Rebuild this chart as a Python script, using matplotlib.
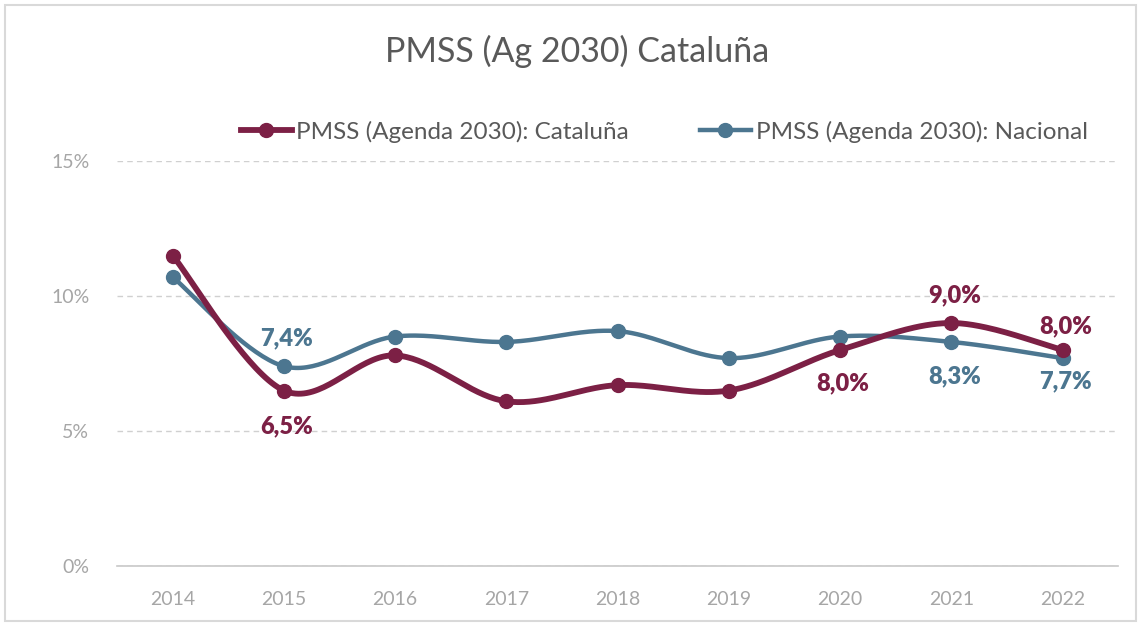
import numpy as np
import matplotlib.pyplot as plt
from matplotlib.patches import Rectangle


years = ["2014", "2015", "2016", "2017", "2018", "2019", "2020", "2021", "2022"]
cataluna = [11.5, 6.5, 7.8, 6.1, 6.7, 6.5, 8.0, 9.0, 8.0]
nacional = [10.7, 7.4, 8.5, 8.3, 8.7, 7.7, 8.5, 8.3, 7.7]

# labelled points -> vertical offset of the label (points)
cat_labels = {1: -26, 6: -24, 7: 20, 8: 17}
nac_labels = {1: 20, 7: -25, 8: -17}

C_CAT = "#7C2045"
C_NAC = "#4C7690"

plt.rcParams["font.family"] = ["Lato", "DejaVu Sans"]


def smooth(x, y, n=40):
    # catmull-rom style bezier, like Excel's "smoothed line"
    x = np.asarray(x, float)
    y = np.asarray(y, float)
    px = np.concatenate([[x[0]], x, [x[-1]]])
    py = np.concatenate([[y[0]], y, [y[-1]]])
    t = np.linspace(0, 1, n)[:, None]
    xs, ys = [], []
    for i in range(1, len(px) - 2):
        p0 = np.array([px[i], py[i]])
        p3 = np.array([px[i + 1], py[i + 1]])
        c1 = p0 + (np.array([px[i + 1], py[i + 1]]) - np.array([px[i - 1], py[i - 1]])) / 6
        c2 = p3 - (np.array([px[i + 2], py[i + 2]]) - p0) / 6
        b = ((1 - t) ** 3) * p0 + 3 * ((1 - t) ** 2) * t * c1 + 3 * (1 - t) * t ** 2 * c2 + t ** 3 * p3
        xs.append(b[:, 0])
        ys.append(b[:, 1])
    return np.concatenate(xs), np.concatenate(ys)


fig = plt.figure(figsize=(11.43, 6.26), dpi=100)
ax = fig.add_axes([0.1024, 0.0958, 0.876, 0.647])

x = np.arange(len(years))

sx, sy = smooth(x, nacional)
ax.plot(sx, sy, color=C_NAC, lw=3.2, solid_capstyle="round", zorder=3)
ax.plot(x, nacional, "o", color=C_NAC, ms=10, zorder=4)

sx, sy = smooth(x, cataluna)
ax.plot(sx, sy, color=C_CAT, lw=4.2, solid_capstyle="round", zorder=3)
ax.plot(x, cataluna, "o", color=C_CAT, ms=10, zorder=4)

# legend handles
ax.plot([], [], "-o", color=C_CAT, lw=4.2, ms=10, label="PMSS (Agenda 2030): Cataluña")
ax.plot([], [], "-o", color=C_NAC, lw=3.2, ms=10, label="PMSS (Agenda 2030): Nacional")


def fmt(v):
    return f"{v:.1f}%".replace(".", ",")


for i, off in cat_labels.items():
    ax.annotate(fmt(cataluna[i]), (x[i], cataluna[i]), xytext=(2, off),
                textcoords="offset points", ha="center", va="center",
                color=C_CAT, fontsize=17, fontweight="heavy", zorder=5)

for i, off in nac_labels.items():
    ax.annotate(fmt(nacional[i]), (x[i], nacional[i]), xytext=(2, off),
                textcoords="offset points", ha="center", va="center",
                color=C_NAC, fontsize=17, fontweight="heavy", zorder=5)

ax.set_xlim(-0.5, len(years) - 0.5)
ax.set_ylim(0, 15)
ax.set_yticks([0, 5, 10, 15])
ax.set_yticklabels(["0%", "5%", "10%", "15%"])
ax.set_xticks(x)
ax.set_xticklabels(years)
ax.tick_params(length=0, labelsize=14, labelcolor="#A6A6A6")
ax.tick_params(axis="x", pad=18)
ax.tick_params(axis="y", pad=20)

ax.grid(axis="y", color="#D0D0D0", ls=(0, (4, 3)), lw=1)
ax.set_axisbelow(True)
for s in ["top", "right", "left"]:
    ax.spines[s].set_visible(False)
ax.spines["bottom"].set_color("#C8C8C8")
ax.spines["bottom"].set_linewidth(1.2)

fig.text(0.505, 0.918, "PMSS (Ag 2030) Cataluña", ha="center", va="center",
         fontsize=24.5, color="#595959")

fig.legend(loc="center", bbox_to_anchor=(0.581, 0.79), ncol=2, frameon=False,
           fontsize=17.5, labelcolor="#595959", handlelength=2.1,
           handletextpad=0.2, columnspacing=2.9)

fig.patches.append(Rectangle((0.004, 0.008), 0.99, 0.984, transform=fig.transFigure,
                             fill=False, edgecolor="#D9D9D9", lw=1.5))

fig.savefig("out.png", dpi=100)
